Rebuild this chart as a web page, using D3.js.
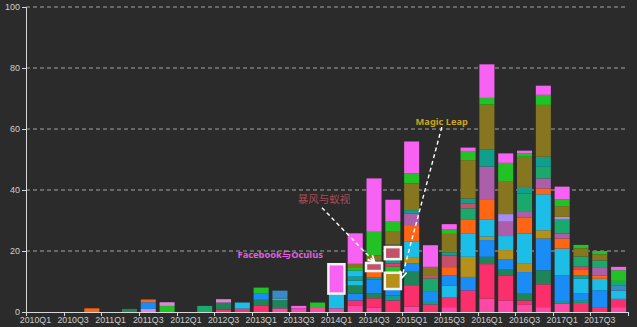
<!DOCTYPE html>
<html><head><meta charset="utf-8">
<script src="https://cdn.jsdelivr.net/npm/d3@7/dist/d3.min.js"></script>
<style>
html,body{margin:0;padding:0;background:#2b2b2b;}
svg{display:block;}
</style></head>
<body><svg id="c" width="637" height="327"></svg>
<script>
const quarters = ['2010Q1','2010Q2','2010Q3','2010Q4','2011Q1','2011Q2','2011Q3','2011Q4',
  '2012Q1','2012Q2','2012Q3','2012Q4','2013Q1','2013Q2','2013Q3','2013Q4',
  '2014Q1','2014Q2','2014Q3','2014Q4','2015Q1','2015Q2','2015Q3','2015Q4',
  '2016Q1','2016Q2','2016Q3','2016Q4','2017Q1','2017Q2','2017Q3','2017Q4'];
const yTicks = [0,20,40,60,80,100];
const xTickLabels = quarters.filter((q,i)=>i%2===0);

// stacked segments per quarter, bottom to top: category keys and values
const segCats = [
  [],[],[],['OR'],[],['DG'],['LP','BL','OR'],['GR','LP'],
  [],['EM'],['CR','DG','LP'],['CR','CY'],['CR','DG','BL','GR'],['HP','DG','CY','SB'],['HP','MG'],['HP','GR'],
  ['HP','CY','MG'],
  ['HP','CR','BL','DG','CY','TL','CY','GR','OL','MG'],
  ['HP','CR','DG','BL','TL','OR','RS','TL','OL','GR','MG'],
  ['CR','TL','BL','GD','GR','CR','TL','RS','DG','OL','GR','MG'],
  ['HP','CR','DG','BL','GD','CY','OR','MV','TL','OL','GR','MG'],
  ['CR','TL','BL','EM','RS','OL','MG'],
  ['HP','CR','CY','BL','OR','RS','TL','OL','GR','MG'],
  ['CR','BL','GD','CY','OR','EM','RS','TL','OL','GR','MG'],
  ['HP','CR','DG','BL','GD','CY','OR','MV','TL','OL','GR','MG'],
  ['HP','CR','DG','BL','GD','CY','MV','LV','OL','GR','MG'],
  ['HP','CR','DG','BL','GD','CY','OR','MV','EM','TL','OL','GR','MG'],
  ['HP','CR','DG','BL','GD','CY','OR','MV','EM','TL','OL','GR','MG'],
  ['HP','TL','BL','CY','OR','MV','EM','LV','OL','GR','MG'],
  ['CR','TL','BL','CY','TL','OR','CR','EM','OL','GR'],
  ['CR','BL','CY','OR','MV','EM','OL','GR'],
  ['HP','CR','CY','SB','EM','GR','MG']
];
const segVals = [
  [],[],[],[1.2],[],[1],[1,2.2,0.9],[2,1.2],
  [],[2],[0.8,2.3,1.1],[1.1,2],[2,2,2.2,1.8],[1.2,2.7,0.5,2.6],[1.2,0.8],[1.6,1.5],
  [1.2,5,9.3],
  [2.2,1.6,2.2,2.7,1.6,1.3,2,1.1,1.1,10],
  [1.5,3,1.6,4.6,0.6,2.3,2.3,1,1.6,7.8,17.5],
  [3.8,1.6,2.3,5,2.2,1,1.6,3.6,1,4.2,3.3,7.2],
  [1.8,7,4.4,2.8,2,5.2,5.3,3.8,1.1,8.8,3.3,10.4],
  [2.5,0.8,3.3,4.4,1.1,2.7,7.1],
  [1.6,3.3,3.8,3.3,2.7,3.8,1.1,6,1.6,1.6],
  [7.1,4.4,6.6,7.7,4.6,3.6,1.6,1.6,12.6,3,1.1],
  [4.4,11.3,2.4,5.5,1.1,5.7,6.6,10.7,5.5,14.8,2.2,11],
  [3.8,8.2,1.9,3.3,3.1,4.6,4.7,2.5,10.6,6.2,3.1],
  [2.5,1.3,2.2,7.1,2.7,9.9,5.3,1.8,6,2.2,9.9,1.1,0.9],
  [1.6,7.5,4.6,10.4,2.7,11.8,1.9,3.3,3.8,3.3,17,3.3,3],
  [2.7,0.9,8.4,8.8,3.3,1.6,4.6,0.9,3.5,2.2,4.2],
  [3,0.9,2.2,4.9,1.1,1.9,0.9,3.3,2.7,1.1],
  [1.6,5.5,3.8,1.1,2.7,2.2,2,1.1],
  [1.6,2.7,2.7,1.6,1.6,3.5,1.1]
];
// highlighted segments: [quarter, segment index]
const highlights = [['2014Q1',2],['2014Q3',6],['2014Q4',3],['2014Q4',7]];
// annotations: label text, anchor in quarter units / value
const notes = [
  {text:'Facebook与Oculus', q:15.78, v:18.7, anchor:'end', cls:'fb'},
  {text:'暴风与蚁视', q:15.84, v:36.9, anchor:'middle', cls:'bf'},
  {text:'Magic Leap', q:22.1, v:62.5, anchor:'middle', cls:'ml'}
];
const arrows = [
  {from:[15.73,34.2], toQ:'2014Q3', toSeg:6, at:'top'},
  {from:[22.1,60.6], toQ:'2014Q4', toSeg:3, at:'right'}
];

const colors = {
  HP:'#ff47a6', CR:'#fb2f6c', DG:'#1f8458', BL:'#1a8cf6', CY:'#1cbde6', TL:'#109f8c',
  EM:'#1ba86c', GD:'#b5911a', RS:'#c4506a', OR:'#ff6512', MV:'#ad5eab', LV:'#a78cf2',
  OL:'#877620', GR:'#22c126', MG:'#f862f2', LP:'#e384dc', SB:'#3a88c4'
};

const svg = d3.select('#c');
const L=26, R=628, T=7, B=312;
const x = d3.scaleBand().domain(quarters).range([L,R]).paddingInner(0.2).paddingOuter(0.1);
const xq = d3.scaleLinear().domain([0,quarters.length]).range([L,R]);
const y = d3.scaleLinear().domain([0,100]).range([B,T]);

// grid
svg.append('g').selectAll('line').data(yTicks.filter(d=>d>0)).join('line')
  .attr('x1',L).attr('x2',R).attr('y1',d=>y(d)).attr('y2',d=>y(d))
  .attr('stroke','#a5a5a5').attr('stroke-width',1).attr('stroke-dasharray','4,3');

// bars
const segs = [];
quarters.forEach((q,i)=>{
  let acc=0;
  segCats[i].forEach((c,j)=>{
    const v=segVals[i][j];
    segs.push({q, j, c, y0:acc, y1:acc+v});
    acc+=v;
  });
});
svg.append('g').selectAll('rect').data(segs).join('rect')
  .attr('x',d=>x(d.q)).attr('width',x.bandwidth())
  .attr('y',d=>y(d.y1)).attr('height',d=>y(d.y0)-y(d.y1))
  .attr('fill',d=>colors[d.c]);

function segOf(q,j){ return segs.find(s=>s.q===q && s.j===j); }

// highlight boxes
svg.append('g').selectAll('rect').data(highlights).join('rect')
  .attr('x',d=>x(d[0])-0.5).attr('width',x.bandwidth()+1)
  .attr('y',d=>y(segOf(d[0],d[1]).y1)-0.5)
  .attr('height',d=>{const s=segOf(d[0],d[1]); return y(s.y0)-y(s.y1)+1;})
  .attr('fill','none').attr('stroke','#f2f2f2').attr('stroke-width',2.5);

// axes
const yAxis = d3.axisLeft(y).tickValues(yTicks).tickSize(4).tickPadding(2);
const gy = svg.append('g').attr('transform',`translate(${L},0)`).call(yAxis);
gy.select('.domain').attr('stroke','#d8d8d8');
gy.selectAll('.tick line').attr('stroke','#d8d8d8');
gy.selectAll('.tick text').attr('fill','#cfcfcf').style('font','9px "Liberation Sans", Arial, sans-serif');

const xAxis = d3.axisBottom(x).tickValues(xTickLabels).tickSize(0).tickPadding(5);
const gx = svg.append('g').attr('transform',`translate(0,${B})`).call(xAxis);
gx.select('.domain').remove();
gx.selectAll('.tick text').attr('fill','#cfcfcf').style('font','8.8px "Liberation Sans", Arial, sans-serif');
svg.append('line').attr('x1',L).attr('x2',R).attr('y1',B+0.5).attr('y2',B+0.5).attr('stroke','#d8d8d8');
svg.append('g').selectAll('line').data(d3.range(0,quarters.length+1,2)).join('line')
  .attr('x1',d=>Math.round(xq(d))+0.5).attr('x2',d=>Math.round(xq(d))+0.5)
  .attr('y1',B).attr('y2',B+4).attr('stroke','#d8d8d8');

// arrows
const defs = svg.append('defs');
defs.append('marker').attr('id','ah').attr('viewBox','0 0 10 10').attr('refX',8).attr('refY',5)
  .attr('markerWidth',6).attr('markerHeight',6).attr('orient','auto')
  .append('path').attr('d','M1,1 L9,5 L1,9').attr('fill','none').attr('stroke','#fff').attr('stroke-width',2);
svg.append('g').selectAll('line').data(arrows).join('line')
  .attr('x1',d=>xq(d.from[0])).attr('y1',d=>y(d.from[1]))
  .attr('x2',d=>{const s=segOf(d.toQ,d.toSeg); return d.at==='top'? x(d.toQ)+x.bandwidth()/2 : x(d.toQ)+x.bandwidth()+1.5;})
  .attr('y2',d=>{const s=segOf(d.toQ,d.toSeg); return d.at==='top'? y(s.y1)-2 : y(s.y1)+4;})
  .attr('stroke','#fff').attr('stroke-width',1.4).attr('stroke-dasharray','4,3')
  .attr('marker-end','url(#ah)');

// labels
const noteStyle = {
  fb:{fill:'#e35ee0', font:'bold 9.3px "Noto Sans", "Noto Sans CJK SC", sans-serif'},
  bf:{fill:'#ab4a55', font:'10.5px "Noto Sans CJK SC", serif'},
  ml:{fill:'#c9a21c', font:'bold 9.3px "Noto Sans", sans-serif'}
};
svg.append('g').selectAll('text').data(notes).join('text')
  .attr('x',d=>xq(d.q)).attr('y',d=>y(d.v)).attr('dy','0.35em')
  .attr('text-anchor',d=>d.anchor)
  .attr('fill',d=>noteStyle[d.cls].fill)
  .style('font',d=>noteStyle[d.cls].font)
  .text(d=>d.text);
</script></body></html>
